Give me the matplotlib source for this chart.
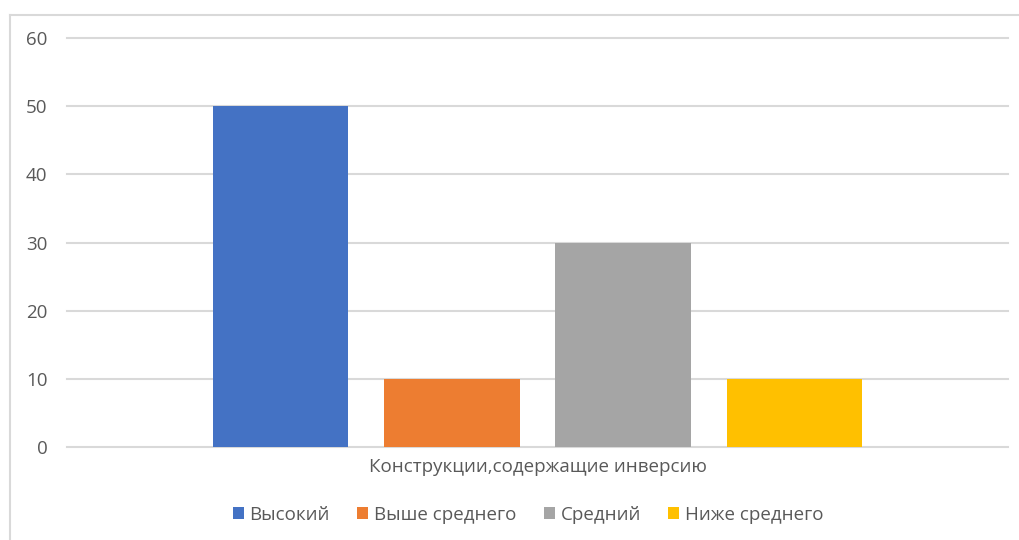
import matplotlib.pyplot as plt
from matplotlib.lines import Line2D

# данные
category = 'Конструкции,содержащие инверсию'
levels = ['Высокий', 'Выше среднего', 'Средний', 'Ниже среднего']
values = [50, 10, 30, 10]
colors = ['#4472c4', '#ed7d31', '#a5a5a5', '#ffc000']

plt.rcParams['font.family'] = ['Open Sans', 'DejaVu Sans']
text_color = '#595959'

fig = plt.figure(figsize=(10.2, 5.4), dpi=100)
ax = fig.add_axes([67 / 1020, 1 - 447 / 540, 941 / 1020, 409 / 540])

width = 0.79
offsets = [-1.5, -0.5, 0.5, 1.5]
for off, lvl, val, col in zip(offsets, levels, values, colors):
    ax.bar(off, val, width=width, color=col, label=lvl, zorder=3)

ax.set_xlim(-2.75, 2.75)
ax.set_ylim(0, 60)
ax.set_yticks(range(0, 61, 10))
ax.set_xticks([0])
ax.set_xticklabels([category])
ax.yaxis.grid(True, color='#d9d9d9', linewidth=1.5, zorder=0)
for s in ax.spines.values():
    s.set_visible(False)
ax.tick_params(axis='both', length=0, labelsize=13.5, labelcolor=text_color)
ax.tick_params(axis='y', pad=14)
ax.tick_params(axis='x', pad=8)
for gl in ax.get_ygridlines():
    gl.set_clip_on(False)

ax.legend(loc='upper center', bbox_to_anchor=(0.49, -0.102), ncol=4, frameon=False,
          fontsize=13.5, labelcolor=text_color, handlelength=0.6, handleheight=0.6,
          handletextpad=0.3, columnspacing=1.45)

# рамка диаграммы
fig.add_artist(Line2D([10 / 1020, 10 / 1020], [0, 1 - 15 / 540], color='#d9d9d9', lw=1.5))
fig.add_artist(Line2D([10 / 1020, 1], [1 - 15 / 540, 1 - 15 / 540], color='#d9d9d9', lw=1.5))

fig.savefig('out.png')
